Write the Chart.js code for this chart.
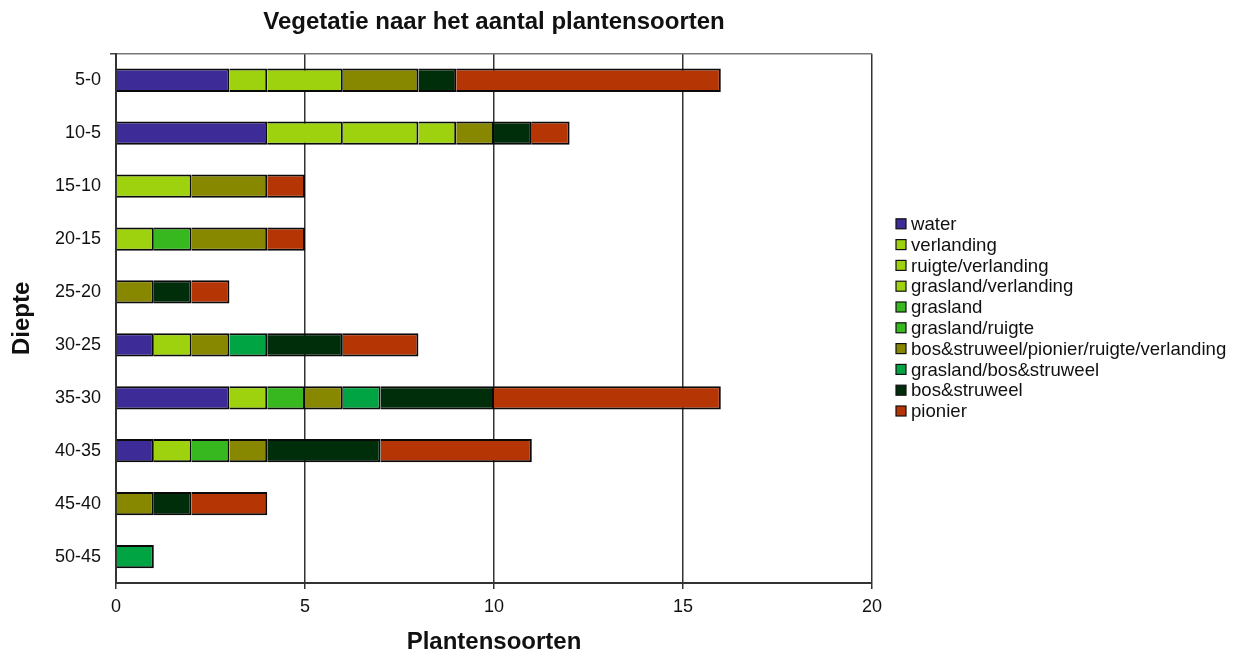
<!DOCTYPE html>
<html>
<head>
<meta charset="utf-8">
<script src="https://cdn.jsdelivr.net/npm/chart.js@4.4.1/dist/chart.umd.min.js"></script>
<style>
  html, body { margin: 0; padding: 0; background: #ffffff; }
  #wrap { width: 1234px; height: 651px; position: relative; }
</style>
</head>
<body>
<div id="wrap"><canvas id="c" width="1234" height="651"></canvas></div>
<script>
// ---- data ----
const categories = ['5-0', '10-5', '15-10', '20-15', '25-20', '30-25', '35-30', '40-35', '45-40', '50-45'];
const seriesNames = ['water', 'verlanding', 'ruigte/verlanding', 'grasland/verlanding', 'grasland',
  'grasland/ruigte', 'bos&struweel/pionier/ruigte/verlanding', 'grasland/bos&struweel', 'bos&struweel', 'pionier'];
const water               = [3, 4, 0, 0, 0, 1, 3, 1, 0, 0];
const verlanding          = [1, 2, 2, 1, 0, 1, 1, 1, 0, 0];
const ruigteVerlanding    = [2, 2, 0, 0, 0, 0, 0, 0, 0, 0];
const graslandVerlanding  = [0, 1, 0, 0, 0, 0, 0, 0, 0, 0];
const grasland            = [0, 0, 0, 1, 0, 0, 1, 1, 0, 0];
const graslandRuigte      = [0, 0, 0, 0, 0, 0, 0, 0, 0, 0];
const bosPionierRuigteVerl= [2, 1, 2, 2, 1, 1, 1, 1, 1, 0];
const graslandBos         = [0, 0, 0, 0, 0, 1, 1, 0, 0, 1];
const bosStruweel         = [1, 1, 0, 0, 1, 2, 3, 3, 1, 0];
const pionier             = [7, 1, 1, 1, 1, 2, 6, 4, 2, 0];
const xTicks = [0, 5, 10, 15, 20];
const seriesColors = ['#3D2B97', '#9ED20F', '#9ED20F', '#9ED20F', '#37B81F', '#37B81F',
  '#888800', '#00A443', '#002D0A', '#B53505'];

const seriesValues = [water, verlanding, ruigteVerlanding, graslandVerlanding, grasland,
  graslandRuigte, bosPionierRuigteVerl, graslandBos, bosStruweel, pionier];

const FONT = '"Liberation Sans", Arial, Helvetica, sans-serif';

const datasets = seriesNames.map((name, i) => ({
  label: name,
  data: seriesValues[i].map(v => (v === 0 ? null : v)),
  backgroundColor: seriesColors[i],
  borderColor: '#0a0a0a',
  borderWidth: 2,
  borderSkipped: 'start',
  categoryPercentage: 1.0,
  barPercentage: 0.44
}));

const customLegend = {
  id: 'customLegend',
  afterDraw(chart) {
    const ctx = chart.ctx;
    const area = chart.chartArea;
    ctx.save();
    ctx.font = '18.6px ' + FONT;
    ctx.textBaseline = 'middle';
    ctx.textAlign = 'left';
    chart.data.datasets.forEach((ds, i) => {
      const cy = area.top + 170 + i * 20.8;
      const bx = area.right + 24;
      ctx.fillStyle = ds.backgroundColor;
      ctx.fillRect(bx, cy - 5, 10, 10);
      ctx.strokeStyle = '#111';
      ctx.lineWidth = 1.2;
      ctx.strokeRect(bx, cy - 5, 10, 10);
      ctx.fillStyle = '#111';
      ctx.fillText(ds.label, bx + 15, cy + 1);
    });
    ctx.restore();
  }
};

new Chart(document.getElementById('c'), {
  type: 'bar',
  data: { labels: categories, datasets },
  plugins: [customLegend],
  options: {
    indexAxis: 'y',
    responsive: false,
    animation: false,
    layout: { padding: { left: 10, right: 362, top: 0, bottom: 0 } },
    plugins: {
      legend: { display: false },
      tooltip: { enabled: false },
      title: {
        display: true,
        fullSize: false,
        text: 'Vegetatie naar het aantal plantensoorten',
        color: '#111',
        font: { family: FONT, size: 24, weight: 'bold', lineHeight: 1.2 },
        padding: { top: 8, bottom: 17 }
      }
    },
    scales: {
      x: {
        type: 'linear',
        stacked: true,
        min: 0,
        max: 20,
        afterBuildTicks: (axis) => { axis.ticks = xTicks.map(v => ({ value: v })); },
        ticks: { color: '#111', font: { family: FONT, size: 18, lineHeight: 1 }, padding: 9 },
        grid: { color: '#333', lineWidth: 1.5, tickLength: 6, tickColor: '#333' },
        border: { display: true, color: '#333', width: 2 },
        title: {
          display: true,
          text: 'Plantensoorten',
          color: '#111',
          font: { family: FONT, size: 24, weight: 'bold', lineHeight: 0.75 },
          padding: { top: 8, bottom: 0 }
        }
      },
      y: {
        type: 'category',
        stacked: true,
        offset: true,
        ticks: { color: '#111', font: { family: FONT, size: 18 }, padding: 9 },
        grid: {
          offset: true,
          tickLength: 6,
          lineWidth: 1.5,
          color: (c) => (c.index === 0 ? '#777' : 'rgba(0,0,0,0)'),
          tickColor: (c) => (c.index === 0 || c.index === categories.length ? '#444' : 'rgba(0,0,0,0)')
        },
        border: { display: true, color: '#333', width: 2 },
        title: {
          display: true,
          text: 'Diepte',
          color: '#111',
          font: { family: FONT, size: 24, weight: 'bold', lineHeight: 1 },
          padding: { top: 0, bottom: 12 }
        }
      }
    }
  }
});
</script>
</body>
</html>
